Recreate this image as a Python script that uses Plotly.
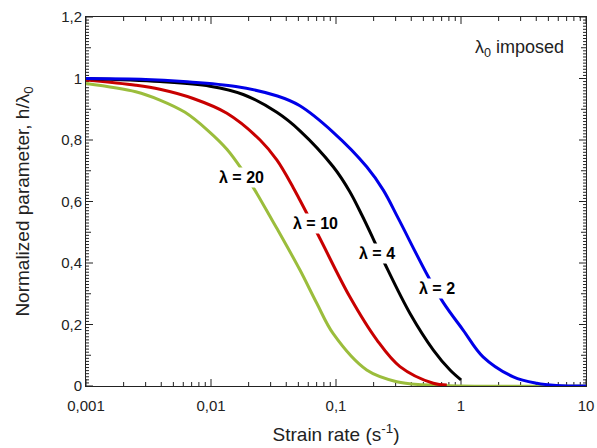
import math
import plotly.graph_objects as go

# ---- data ----
x_l2 = [0.001, 0.003, 0.006, 0.0158, 0.034, 0.051, 0.095, 0.176, 0.239, 0.315, 0.53, 0.72, 1.04, 1.5, 2.62, 4.04, 5.8, 10]
y_l2 = [1.0, 0.997, 0.99, 0.974, 0.943, 0.912, 0.825, 0.713, 0.637, 0.545, 0.366, 0.272, 0.182, 0.095, 0.03, 0.009, 0.002, 0.0]

x_l4 = [0.001, 0.0039, 0.0098, 0.0181, 0.0336, 0.0515, 0.095, 0.129, 0.161, 0.199, 0.247, 0.391, 0.601, 0.817, 1.0]
y_l4 = [1.0, 0.99, 0.975, 0.948, 0.89, 0.83, 0.713, 0.632, 0.556, 0.478, 0.396, 0.236, 0.117, 0.052, 0.02]

x_l10 = [0.001, 0.0025, 0.0039, 0.0072, 0.0134, 0.0247, 0.0336, 0.0455, 0.0515, 0.072, 0.129, 0.212, 0.325, 0.6, 0.77]
y_l10 = [0.995, 0.978, 0.965, 0.935, 0.887, 0.80, 0.735, 0.645, 0.604, 0.491, 0.29, 0.15, 0.063, 0.009, 0.003]

x_l20 = [0.001, 0.0025, 0.0039, 0.0062, 0.0095, 0.0134, 0.0176, 0.0232, 0.0297, 0.0336, 0.0515, 0.0702, 0.095, 0.176, 0.306, 0.5, 1.0, 10]
y_l20 = [0.984, 0.957, 0.93, 0.89, 0.83, 0.77, 0.705, 0.627, 0.551, 0.513, 0.377, 0.269, 0.17, 0.052, 0.014, 0.004, 0.0, 0.0]

x_range = [0.001, 10]
y_range = [0, 1.2]
x_tickvals = [0.001, 0.01, 0.1, 1, 10]
x_ticktext = ["0,001", "0,01", "0,1", "1", "10"]
y_tickvals = [0, 0.2, 0.4, 0.6, 0.8, 1.0, 1.2]
y_ticktext = ["0", "0,2", "0,4", "0,6", "0,8", "1", "1,2"]
x_minor = [m * 10 ** e for e in (-3, -2, -1, 0) for m in range(2, 10)]
y_mid = [0.1, 0.3, 0.5, 0.7, 0.9, 1.1]
y_minor = [i / 100 for i in range(0, 121) if i % 10 != 0]

labels = ["λ = 20", "λ = 10", "λ = 4", "λ = 2"]
label_x = [0.0176, 0.068, 0.212, 0.64]
label_y = [0.677, 0.529, 0.432, 0.318]

note_text = "λ<sub>0</sub> imposed"
note_x = 2.96
note_y = 1.098

FONT = "Liberation Sans, Arial, sans-serif"
TC = "#222222"
W, H = 597, 448
M = dict(l=86, r=11, t=17, b=62)

# pixel scale of the axes (for tick lengths)
lx0, lx1 = math.log10(x_range[0]), math.log10(x_range[1])
px_per_decade = (W - M["l"] - M["r"]) / (lx1 - lx0)
px_per_yunit = (H - M["t"] - M["b"]) / (y_range[1] - y_range[0])

fig = go.Figure()


def x_ticks(vals, length_px):
    xs, ys = [], []
    dy = length_px / px_per_yunit
    for v in vals:
        xs += [v, v, None, v, v, None]
        ys += [y_range[0], y_range[0] + dy, None, y_range[1], y_range[1] - dy, None]
    fig.add_trace(go.Scatter(x=xs, y=ys, mode="lines", line=dict(color=TC, width=1),
                             connectgaps=False, showlegend=False, hoverinfo="skip"))


def y_ticks(vals, length_px):
    xs, ys = [], []
    f = 10 ** (length_px / px_per_decade)
    for v in vals:
        xs += [x_range[0], x_range[0] * f, None, x_range[1], x_range[1] / f, None]
        ys += [v, v, None, v, v, None]
    fig.add_trace(go.Scatter(x=xs, y=ys, mode="lines", line=dict(color=TC, width=1),
                             connectgaps=False, showlegend=False, hoverinfo="skip"))


x_ticks(x_tickvals, 7)
x_ticks(x_minor, 4)
y_ticks(y_tickvals, 7)
y_ticks(y_mid, 5)
y_ticks(y_minor, 3)

series = [
    (x_l20, y_l20, "#9bbd3c"),
    (x_l10, y_l10, "#c80000"),
    (x_l4, y_l4, "#000000"),
    (x_l2, y_l2, "#0000e8"),
]
for xs, ys, c in series:
    fig.add_trace(go.Scatter(x=xs, y=ys, mode="lines",
                             line=dict(color=c, width=3, shape="spline", smoothing=1.0),
                             showlegend=False, hoverinfo="skip"))

for t, lx, ly in zip(labels, label_x, label_y):
    fig.add_annotation(x=math.log10(lx), y=ly, xref="x", yref="y", text="<b>%s</b>" % t,
                       showarrow=False, bgcolor="white", borderpad=1,
                       font=dict(family=FONT, size=16, color="black"))

fig.add_annotation(x=math.log10(note_x), y=note_y, xref="x", yref="y", text=note_text,
                   showarrow=False, font=dict(family=FONT, size=18, color=TC))

fig.update_layout(
    width=W, height=H,
    margin=M,
    paper_bgcolor="white", plot_bgcolor="white",
    font=dict(family=FONT, size=15, color=TC),
    xaxis=dict(type="log", range=[lx0, lx1],
               tickvals=x_tickvals, ticktext=x_ticktext, ticks="", ticklabelstandoff=6,
               showgrid=False, zeroline=False, automargin=False,
               showline=True, linecolor=TC, linewidth=1, mirror=True,
               title=dict(text="Strain rate (s<sup>-1</sup>)", font=dict(size=19), standoff=14),
               tickfont=dict(size=15)),
    yaxis=dict(range=y_range, tickvals=y_tickvals, ticktext=y_ticktext, ticks="",
               showgrid=False, zeroline=False, automargin=False,
               showline=True, linecolor=TC, linewidth=1, mirror=True,
               title=dict(text="Normalized parameter, h/λ<sub>0</sub>", font=dict(size=19), standoff=26),
               tickfont=dict(size=15)),
)

fig.write_html("out.html", post_script="document.body.style.margin='0px';",
               config={"displayModeBar": False})
